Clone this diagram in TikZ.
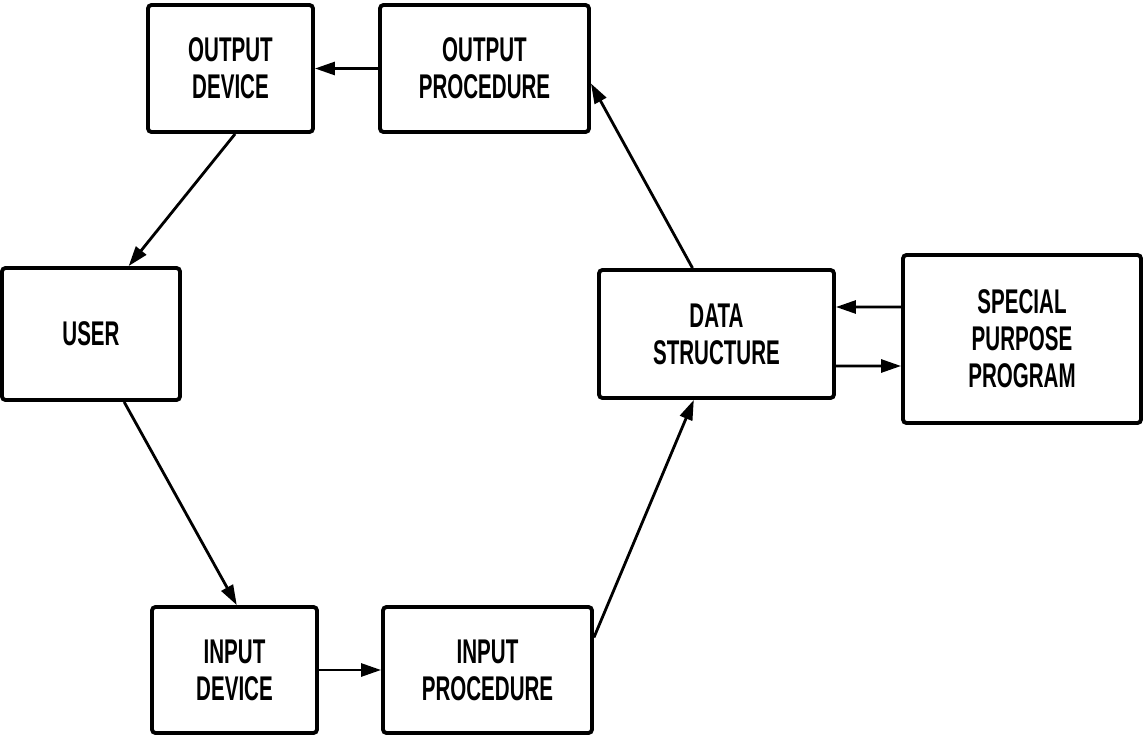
\documentclass[tikz,border=0pt]{standalone}
\usepackage{fontspec}
\newfontfamily\boxfont{Liberation Sans}[FakeStretch=0.6]
\usetikzlibrary{arrows.meta, positioning}

\begin{document}
\begin{tikzpicture}
% Node styles
\tikzstyle{block} = [rectangle, draw=black, line width=2.2pt, rounded corners=2pt, text centered, align=center, font=\boxfont\bfseries\fontsize{19.5}{21}\selectfont]
\tikzstyle{arrow} = [line width=1.6pt, -{Triangle[length=4mm, width=2.6mm]}]

\useasboundingbox (0,0) rectangle (22.86,14.74);

% Nodes
\node [block, minimum width=3.30cm, minimum height=2.54cm] (outdev) at (4.61,13.37) {OUTPUT\\DEVICE};
\node [block, minimum width=4.18cm, minimum height=2.54cm] (outproc) at (9.69,13.37) {OUTPUT\\PROCEDURE};
\node [block, minimum width=3.56cm, minimum height=2.64cm] (user) at (1.82,8.06) {USER};
\node [block, minimum width=4.70cm, minimum height=2.56cm] (data) at (14.33,8.06) {DATA\\STRUCTURE};
\node [block, minimum width=4.76cm, minimum height=3.36cm] (spec) at (20.44,7.96) {SPECIAL\\PURPOSE\\PROGRAM};
\node [block, minimum width=3.30cm, minimum height=2.52cm] (indev) at (4.69,1.34) {INPUT\\DEVICE};
\node [block, minimum width=4.18cm, minimum height=2.52cm] (inproc) at (9.75,1.34) {INPUT\\PROCEDURE};

% Arrows
\draw [arrow] (outproc) -- (outdev);
\draw [arrow] (outdev.-86) -- (user.61);
\draw [arrow] (user.-64) -- (indev.88);
\draw [arrow] (indev) -- (inproc);
\draw [arrow] (inproc.17) -- (data.-109);
\draw [arrow] (data.110) -- (outproc.-8);
\draw [arrow] ([yshift=0.64cm]spec.west) -- ([yshift=0.54cm]data.east);
\draw [arrow] ([yshift=-0.64cm]data.east) -- ([yshift=-0.54cm]spec.west);
\end{tikzpicture}
\end{document}
